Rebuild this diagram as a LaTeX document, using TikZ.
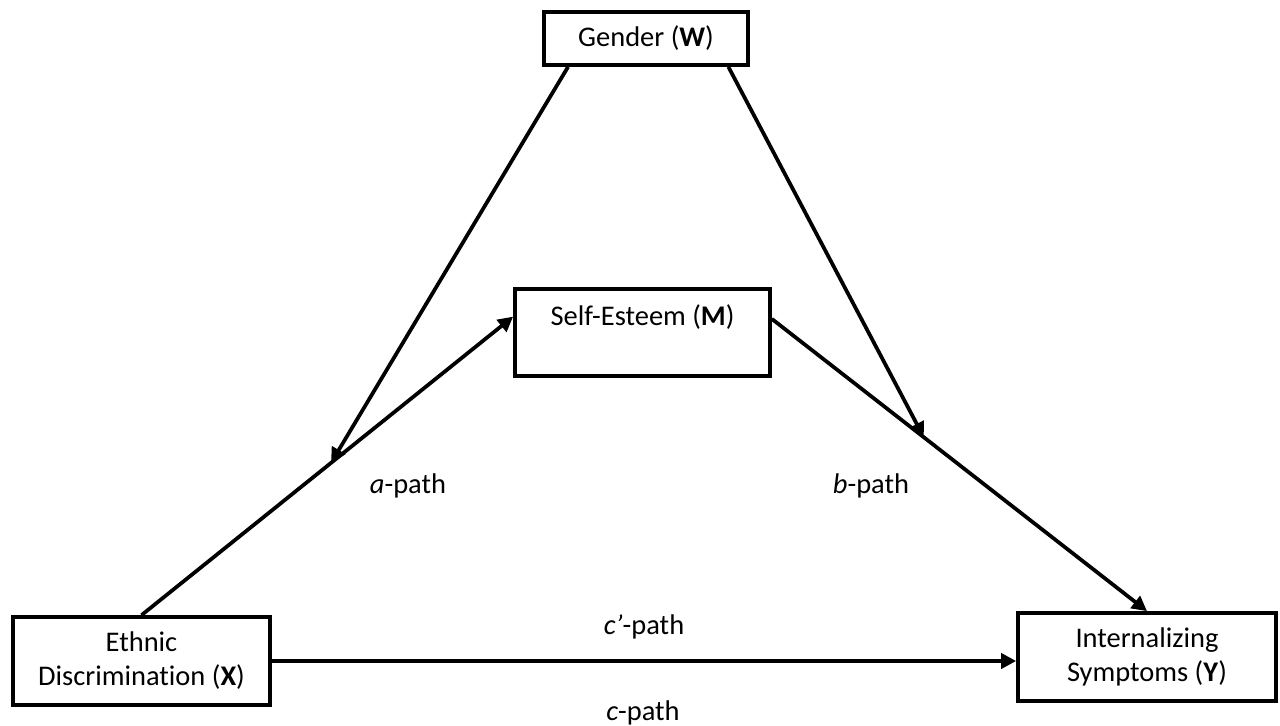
\documentclass[tikz,border=0pt]{standalone}
\usepackage{fontspec}
\setmainfont[Ligatures=NoCommon]{Carlito}
\usetikzlibrary{arrows.meta}
\tikzstyle{var} = [rectangle, draw=black, line width=0.075cm, inner sep=0pt, minimum width=5.14cm, minimum height=1.76cm, text centered, align=center]
\tikzstyle{mod} = [var, minimum width=4.08cm, minimum height=1.06cm]
\tikzstyle{pathlabel} = [anchor=base, inner sep=0pt]
\tikzstyle{arrow} = [line width=0.075cm, -{Triangle[length=0.3cm, width=0.3cm]}]

\begin{document}
\begin{tikzpicture}[x=0.02cm, y=-0.02cm, font=\fontsize{16.2}{19.3}\selectfont]
   \useasboundingbox (0,0) rectangle (1280,726);
   \node (gender) [mod] at (646,38.5) {Gender (\textbf{W})};
   \node (esteem) [var, minimum width=5.1cm, minimum height=1.74cm] at (642.5,332.5) {Self-Esteem (\textbf{M})\\ \mbox{}};
   \node (discrim) [var] at (141.5,661) {Ethnic\\Discrimination (\textbf{X})};
   \node (symptoms) [var, minimum width=5.16cm] at (1147,657) {Internalizing\\Symptoms (\textbf{Y})};
   \node (apath) [pathlabel] at (408,493) {\textit{a}-path};
   \node (bpath) [pathlabel] at (871,493) {\textit{b}-path};
   \node (cprime) [pathlabel] at (644,634) {\textit{c’}-path};
   \node (cpath) [pathlabel] at (643,720) {\textit{c}-path};
   \draw [arrow] (discrim.north) -- coordinate[pos=0.51] (apoint) (esteem.173);
   \draw [arrow] (esteem.6) -- coordinate[pos=0.405] (bpoint) (symptoms.north);
   \draw [arrow] (discrim.east) -- (discrim.east -| symptoms.west);
   \draw [arrow] (gender.200) -- (apoint);
   \draw [arrow] (gender.-19) -- (bpoint);
  \end{tikzpicture}
\end{document}
